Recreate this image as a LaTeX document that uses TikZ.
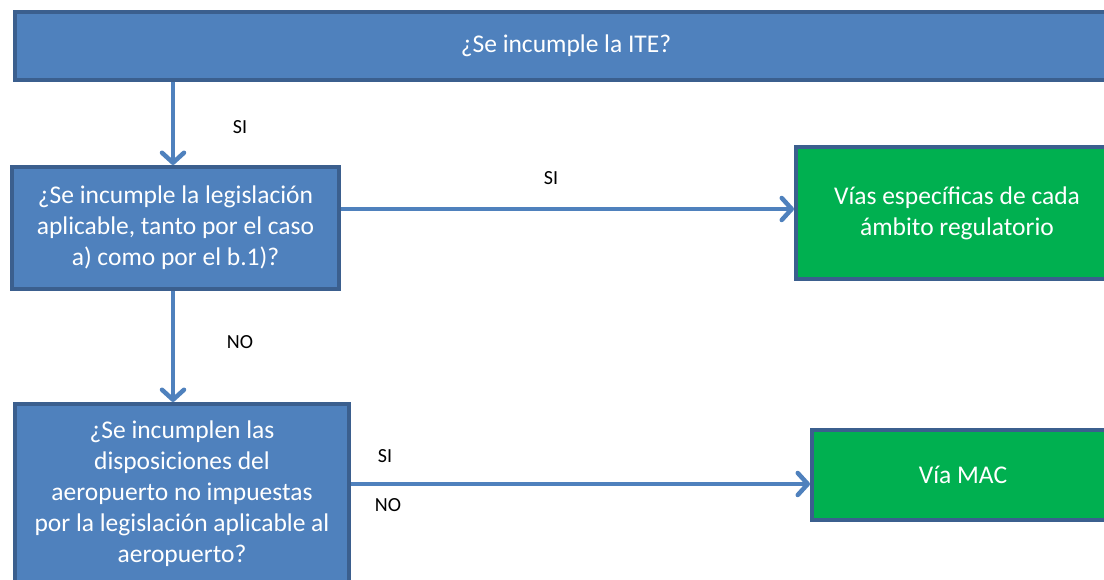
\documentclass[tikz,border=0pt]{standalone}
\usepackage{fontspec}
\setmainfont{Carlito}
\usetikzlibrary{arrows.meta}
\definecolor{boxblue}{HTML}{4F81BD}
\definecolor{boxedge}{HTML}{3B5F8E}
\definecolor{boxgreen}{HTML}{00B050}
\begin{document}
\begin{tikzpicture}[x=1pt,y=-1pt,
    question/.style={draw=boxedge,fill=boxblue,line width=4pt,text=white,align=center,
      font=\fontsize{25.5}{31}\selectfont,inner sep=0pt},
    result/.style={question,fill=boxgreen},
    flow/.style={draw=boxblue,line width=4.5pt,-{Straight Barb[length=10pt,width=22pt,line width=4.5pt,round]}},
    answer/.style={font=\fontsize{20}{23}\selectfont,text=black}]
  \useasboundingbox (0,0) rectangle (1104,580);
  \clip (0,0) rectangle (1104,580);
  % questions
  \node[question,minimum width=1102pt,minimum height=68pt] (ite) at (566,46) {¿Se incumple la ITE?};
  \node[question,minimum width=327pt,minimum height=122pt] (leg) at (175.5,228)
    {¿Se incumple la legislación\\aplicable, tanto por el caso\\a) como por el b.1)?};
  \node[question,minimum width=334pt,minimum height=180pt] (aer) at (182,494)
    {¿Se incumplen las\\disposiciones del\\aeropuerto no impuestas\\por la legislación aplicable al\\aeropuerto?};
  % results
  \node[result,minimum width=322pt,minimum height=132pt] (vias) at (957,213)
    {Vías específicas de cada\\ámbito regulatorio};
  \node[result,minimum width=302pt,minimum height=90pt] (mac) at (963,475) {Vía MAC};
  % connectors
  \draw[flow] (ite.south -| 173,0) -- (leg.north -| 173,0);
  \draw[flow] ([yshift=19pt]leg.east) -- ([yshift=19pt]leg.east -| vias.west);
  \draw[flow] (leg.south -| 173,0) -- (aer.north -| 173,0);
  \draw[flow] ([yshift=10pt]aer.east) -- ([yshift=10pt]aer.east -| mac.west);
  % labels
  \node[answer] (si1) at (240,127) {SI};
  \node[answer] (si2) at (551,178) {SI};
  \node[answer] (no1) at (240,342) {NO};
  \node[answer] (si3) at (385,456) {SI};
  \node[answer] (no2) at (388,505) {NO};
\end{tikzpicture}
\end{document}
